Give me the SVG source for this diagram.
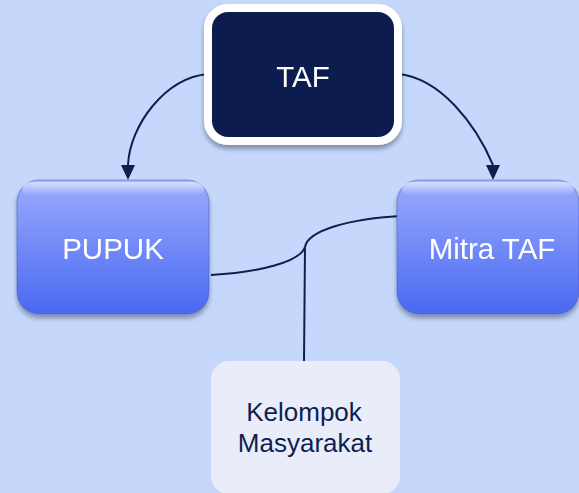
<svg xmlns="http://www.w3.org/2000/svg" width="579" height="493" viewBox="0 0 579 493">
<defs>
<linearGradient id="blueGrad" x1="0" y1="0" x2="0" y2="1">
<stop offset="0" stop-color="#a7b8ff"/>
<stop offset="0.08" stop-color="#93a6fc"/>
<stop offset="1" stop-color="#4a68f2"/>
</linearGradient>
<linearGradient id="hilite" x1="0" y1="0" x2="0" y2="1">
<stop offset="0" stop-color="#ffffff" stop-opacity="0.55"/>
<stop offset="1" stop-color="#ffffff" stop-opacity="0"/>
</linearGradient>
<filter id="shadow" x="-20%" y="-20%" width="140%" height="150%">
<feGaussianBlur in="SourceAlpha" stdDeviation="2.5"/>
<feOffset dx="0" dy="4" result="b"/>
<feComponentTransfer><feFuncA type="linear" slope="0.35"/></feComponentTransfer>
<feMerge><feMergeNode/><feMergeNode in="SourceGraphic"/></feMerge>
</filter>
</defs>
<style>
.conn { fill: none; stroke: #0e1f4f; stroke-width: 2; }
.head { fill: #0e1f4f; }
.lbl { font-family: "Liberation Sans", Arial, sans-serif; text-anchor: middle; }
.white { fill: #ffffff; font-size: 29.5px; }
.dark { fill: #0e1f4f; font-size: 26px; }
.blue { fill: url(#blueGrad); stroke: #3f55c0; stroke-width: 1; stroke-opacity: 0.5; }
</style>
<rect x="0" y="0" width="579" height="493" fill="#c5d8fc"/>

<g id="connectors">
<path class="conn" d="M208,74 C165,78 130,125 128,165"/>
<path class="conn" d="M398,74 C441,78 476,125 493,165"/>
<path class="conn" d="M211,275 C260,272 300,262 305,247 C308,230 350,219 400,216"/>
<path class="conn" d="M305,247 L304,362"/>
<path class="head" d="M121,165 L135,165 L128,180 Z"/>
<path class="head" d="M486,165 L500,165 L493,180 Z"/>
</g>

<g id="node-taf" filter="url(#shadow)">
<rect x="208" y="8" width="190" height="133" rx="20" ry="20" fill="#0e1f4f" stroke="#ffffff" stroke-width="8"/>
<text class="lbl white" x="303" y="87">TAF</text>
</g>

<g id="node-pupuk" filter="url(#shadow)">
<rect class="blue" x="17" y="180" width="192" height="134" rx="22" ry="22"/>
<rect x="22" y="182" width="182" height="14" rx="10" ry="7" fill="url(#hilite)"/>
<text class="lbl white" x="113" y="259">PUPUK</text>
</g>

<g id="node-mitra" filter="url(#shadow)">
<rect class="blue" x="397" y="180" width="182" height="134" rx="22" ry="22"/>
<rect x="402" y="182" width="172" height="14" rx="10" ry="7" fill="url(#hilite)"/>
<text class="lbl white" x="492" y="259">Mitra TAF</text>
</g>

<g id="node-kelompok">
<rect x="211" y="361" width="189" height="133" rx="18" ry="18" fill="#e9edf9"/>
<text class="lbl dark" x="304" y="421">Kelompok</text>
<text class="lbl dark" x="305" y="452">Masyarakat</text>
</g>
</svg>
